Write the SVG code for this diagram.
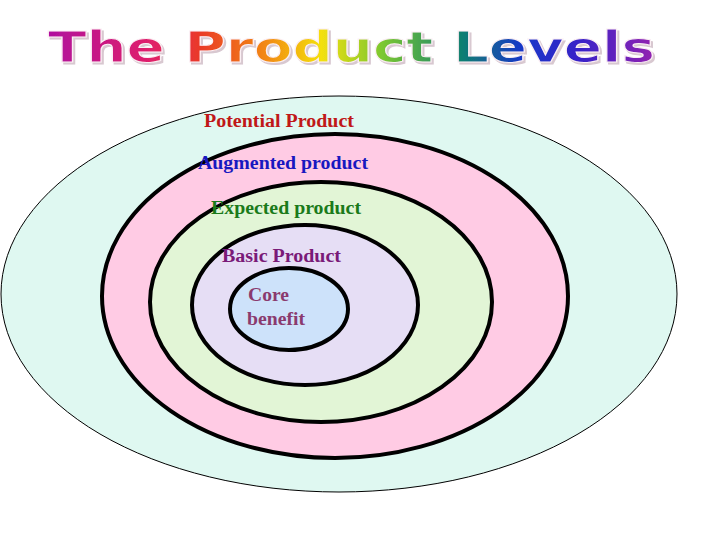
<svg xmlns="http://www.w3.org/2000/svg" width="720" height="540" viewBox="0 0 720 540">
<defs>
<linearGradient id="rainbow" x1="48" y1="0" x2="655" y2="0" gradientUnits="userSpaceOnUse">
<stop offset="0" stop-color="#B0109E"/>
<stop offset="0.17" stop-color="#E0206A"/>
<stop offset="0.25" stop-color="#EA3A28"/>
<stop offset="0.36" stop-color="#F28A12"/>
<stop offset="0.45" stop-color="#F4E010"/>
<stop offset="0.55" stop-color="#7CC830"/>
<stop offset="0.68" stop-color="#108070"/>
<stop offset="0.78" stop-color="#1838C8"/>
<stop offset="0.88" stop-color="#3A20C8"/>
<stop offset="1" stop-color="#9420B0"/>
</linearGradient>
<filter id="shadow" x="-5%" y="-30%" width="110%" height="160%">
<feDropShadow dx="2" dy="2" stdDeviation="0.6" flood-color="#D8C8D0"/>
</filter>
</defs>
<style>
.ring{stroke:#000;stroke-width:4}
.lbl{font-family:"Liberation Serif","Times New Roman",serif;font-weight:bold;font-size:18px}
.title{font-family:"DejaVu Sans","Liberation Sans",sans-serif;font-weight:bold;font-size:42px}
</style>
<rect width="720" height="540" fill="#fff"/>
<g id="title">
<text class="title" x="48" y="62" textLength="607" lengthAdjust="spacingAndGlyphs" fill="url(#rainbow)" stroke="#FBEFF4" stroke-width="1" filter="url(#shadow)">The Product Levels</text>
</g>
<g id="potential">
<ellipse cx="339" cy="294" rx="338" ry="198" fill="#DFF8F1" stroke="#000" stroke-width="1"/>
<text class="lbl" x="204" y="127" textLength="150" lengthAdjust="spacingAndGlyphs" fill="#C01818">Potential Product</text>
</g>
<g id="augmented">
<ellipse class="ring" cx="335" cy="296" rx="233" ry="162" fill="#FFCBE4"/>
<text class="lbl" x="198" y="169" textLength="170" lengthAdjust="spacingAndGlyphs" fill="#1818C0">Augmented product</text>
</g>
<g id="expected">
<ellipse class="ring" cx="321" cy="302" rx="171" ry="120" fill="#E2F5D6"/>
<text class="lbl" x="211" y="214" textLength="150" lengthAdjust="spacingAndGlyphs" fill="#1A7A1A">Expected product</text>
</g>
<g id="basic">
<ellipse class="ring" cx="305" cy="305" rx="113" ry="80" fill="#E6DEF5"/>
<text class="lbl" x="222" y="262" textLength="119" lengthAdjust="spacingAndGlyphs" fill="#7A1A78">Basic Product</text>
</g>
<g id="core">
<ellipse class="ring" cx="289" cy="309" rx="59" ry="41" fill="#CDE2FA"/>
<text class="lbl" x="248" y="301" textLength="41" lengthAdjust="spacingAndGlyphs" fill="#8A3A6E">Core</text>
<text class="lbl" x="247" y="325" textLength="58" lengthAdjust="spacingAndGlyphs" fill="#8A3A6E">benefit</text>
</g>
<g id="connectors"/>
</svg>
